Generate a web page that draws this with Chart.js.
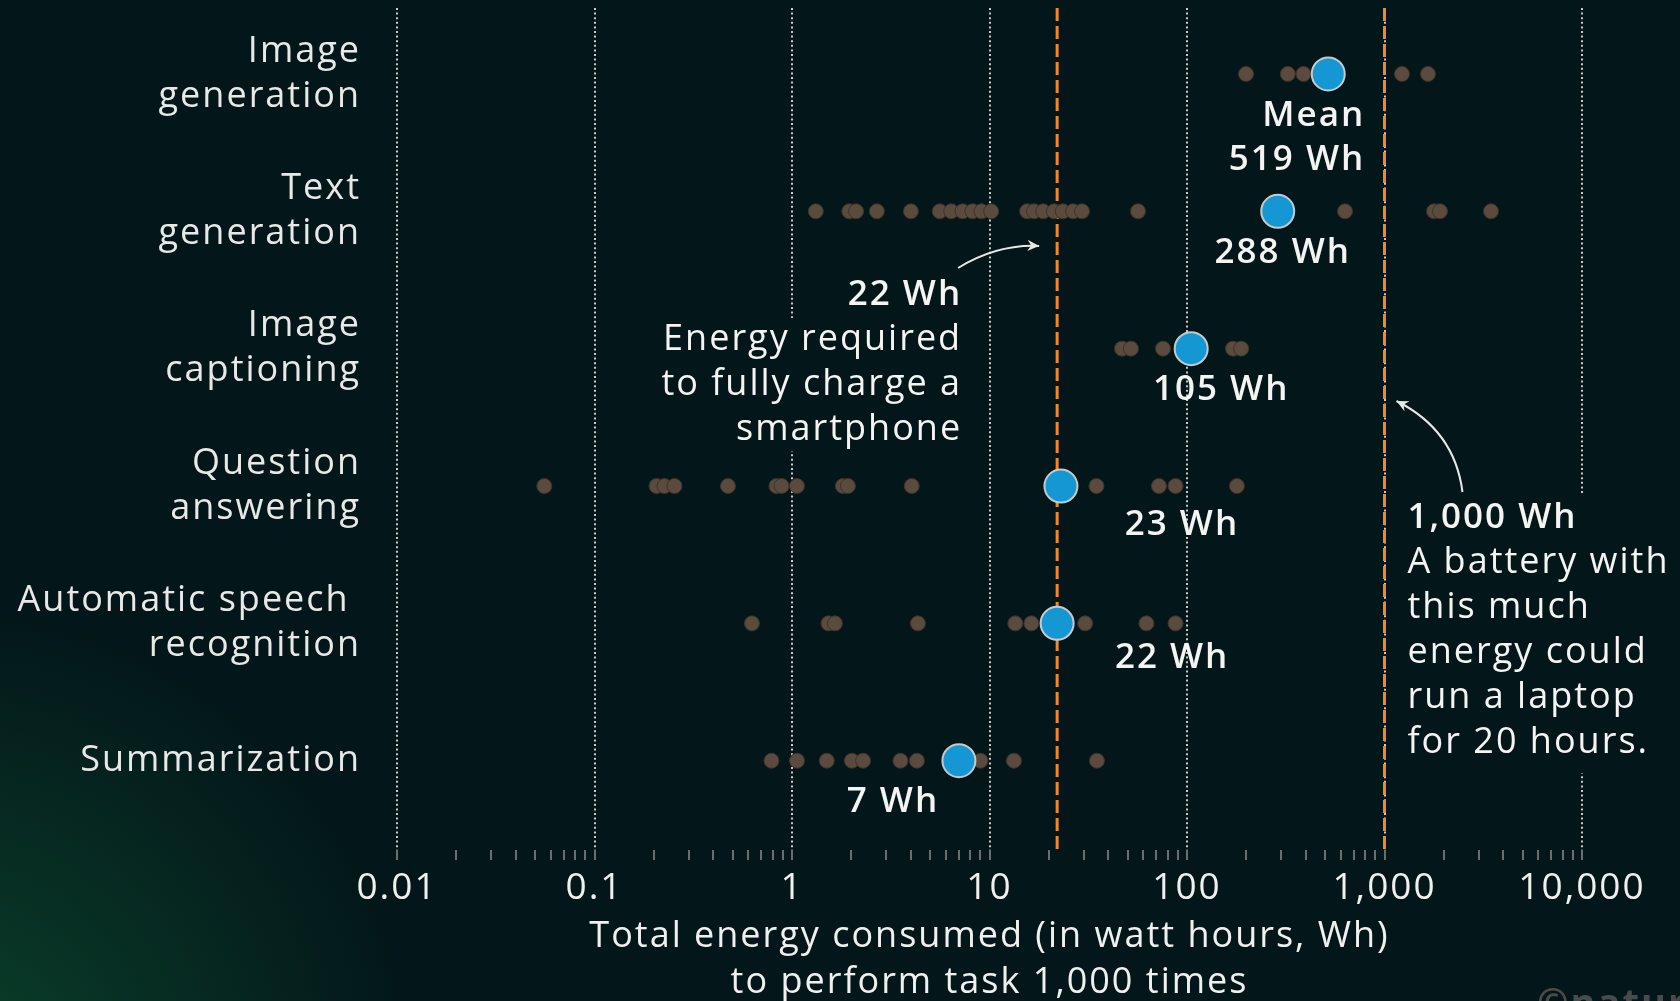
<!DOCTYPE html>
<html>
<head>
<meta charset="utf-8">
<title>Energy per task</title>
<script src="https://cdn.jsdelivr.net/npm/chart.js@4.4.1/dist/chart.umd.min.js"></script>
<style>
  html, body { margin: 0; padding: 0; background: #031619; overflow: hidden; }
  #wrap { width: 1680px; height: 1001px; position: relative; }
</style>
</head>
<body>
<div id="wrap"><canvas id="myChart"></canvas></div>
<script>
var categories = [
  ["Image", "generation"],
  ["Text", "generation"],
  ["Image", "captioning"],
  ["Question", "answering"],
  ["Automatic speech ", "recognition"],
  ["Summarization"]
];
var meanValues = [519, 288, 105, 23, 22, 7];
var meanLabels = [["Mean", "519 Wh"], ["288 Wh"], ["105 Wh"], ["23 Wh"], ["22 Wh"], ["7 Wh"]];

var imageGeneration = [199, 324, 389, 1226, 1660];
var textGeneration = [1.32, 1.95, 2.11, 2.69, 4.0, 5.6, 6.4, 7.3, 8.2, 9.1, 10.2, 15.5, 16.8, 18.7, 21.2, 23.5, 26.5, 29.4, 56.5, 631, 1782, 1910, 3460];
var imageCaptioning = [46.9, 52, 75.6, 171, 188];
var questionAnswering = [0.0557, 0.206, 0.226, 0.254, 0.474, 0.834, 0.886, 1.06, 1.81, 1.92, 4.04, 34.8, 72.1, 87.5, 179];
var speechRecognition = [0.627, 1.53, 1.65, 4.34, 13.5, 16.3, 30.5, 62.3, 87.5];
var summarization = [0.787, 1.06, 1.5, 2.01, 2.29, 3.54, 4.29, 9.0, 13.3, 35.0];

var referenceValues = [22, 1000];
var referenceNotes = [
  ["22 Wh", "Energy required", "to fully charge a", "smartphone"],
  ["1,000 Wh", "A battery with", "this much", "energy could", "run a laptop", "for 20 hours."]
];

var tickValues = [0.01, 0.1, 1, 10, 100, 1000, 10000];
var tickLabels = ["0.01", "0.1", "1", "10", "100", "1,000", "10,000"];
var axisTitle = ["Total energy consumed (in watt hours, Wh)", "to perform task 1,000 times"];

var FONT = "'Open Sans', 'Noto Sans', sans-serif";
var BG = "#031619";
var rows = [imageGeneration, textGeneration, imageCaptioning, questionAnswering, speechRecognition, summarization];

var dots = [];
rows.forEach(function (list, i) {
  list.forEach(function (v) {
    dots.push({ x: v, y: i });
  });
});
var means = meanValues.map(function (v, i) {
  return { x: v, y: i };
});

var yMin = -0.48;
var yMax = 5.65;

function refLine(v) {
  return {
    type: "line",
    data: [{ x: v, y: yMin }, { x: v, y: yMax }],
    borderColor: "#f5862a",
    borderWidth: 3,
    borderDash: [13, 5],
    pointRadius: 0,
    fill: false,
    clip: false,
    order: 3
  };
}

// offsets in px from each mean dot: [dx, dy, align]
var labelOffsets = [[37, 42, "right"], [5, 42, "center"], [30, 41, "center"], [121, 39, "center"], [115, 35, "center"], [-66, 41, "center"]];

function arrow(ctx, x0, y0, cx, cy, x1, y1) {
  ctx.beginPath();
  ctx.moveTo(x0, y0);
  ctx.quadraticCurveTo(cx, cy, x1, y1);
  ctx.stroke();
  var a = Math.atan2(y1 - cy, x1 - cx);
  ctx.beginPath();
  ctx.moveTo(x1, y1);
  ctx.lineTo(x1 - 13 * Math.cos(a - 0.45), y1 - 13 * Math.sin(a - 0.45));
  ctx.lineTo(x1 - 8 * Math.cos(a), y1 - 8 * Math.sin(a));
  ctx.lineTo(x1 - 13 * Math.cos(a + 0.45), y1 - 13 * Math.sin(a + 0.45));
  ctx.closePath();
  ctx.fill();
}

var backdrop = {
  id: "backdrop",
  beforeDraw: function (chart) {
    var ctx = chart.ctx;
    ctx.letterSpacing = "2px";
    ctx.save();
    ctx.fillStyle = BG;
    ctx.fillRect(0, 0, chart.width, chart.height);
    var g = ctx.createRadialGradient(-60, 1080, 0, -60, 1080, 480);
    g.addColorStop(0, "rgba(12, 74, 46, 0.85)");
    g.addColorStop(1, "rgba(12, 74, 46, 0)");
    ctx.fillStyle = g;
    ctx.fillRect(0, 0, chart.width, chart.height);
    ctx.restore();
  },
  beforeDatasetsDraw: function (chart) {
    var x = chart.scales.x;
    var ctx = chart.ctx;
    var a = x.getPixelForValue(referenceValues[0]);
    var b = x.getPixelForValue(referenceValues[1]);
    ctx.save();
    ctx.fillStyle = BG;
    ctx.fillRect(a - 410, 318, 315, 133);
    ctx.fillRect(b + 12, 493, 300, 280);
    ctx.restore();
  }
};

var notes = {
  id: "notes",
  afterDatasetsDraw: function (chart) {
    var ctx = chart.ctx;
    var x = chart.scales.x;
    var y = chart.scales.y;
    ctx.save();
    ctx.letterSpacing = "2px";
    ctx.textBaseline = "middle";
    ctx.fillStyle = "#f4f4f4";
    ctx.font = "600 35px " + FONT;
    meanValues.forEach(function (v, i) {
      var off = labelOffsets[i];
      var px = x.getPixelForValue(v) + off[0];
      var py = y.getPixelForValue(i) + off[1];
      ctx.textAlign = off[2];
      meanLabels[i].forEach(function (line, k) {
        ctx.fillText(line, px, py + k * 44);
      });
    });

    var a = x.getPixelForValue(referenceValues[0]);
    var b = x.getPixelForValue(referenceValues[1]);
    ctx.textAlign = "right";
    referenceNotes[0].forEach(function (line, k) {
      ctx.font = (k === 0 ? "600 35px " : "400 36px ") + FONT;
      ctx.fillText(line, a - 95, 295 + k * 45);
    });
    ctx.textAlign = "left";
    referenceNotes[1].forEach(function (line, k) {
      ctx.font = (k === 0 ? "600 35px " : "400 36px ") + FONT;
      ctx.fillText(line, b + 23, 518 + k * 45);
    });

    ctx.strokeStyle = "#e8e8e8";
    ctx.fillStyle = "#e8e8e8";
    ctx.lineWidth = 2;
    arrow(ctx, a - 99, 268, a - 60, 244, a - 18, 246);
    arrow(ctx, b + 78, 492, b + 70, 430, b + 12, 401);

    ctx.fillStyle = "#4a4a4a";
    ctx.font = "700 38px " + FONT;
    ctx.textAlign = "left";
    ctx.textBaseline = "top";
    ctx.fillText("\u00a9nature", 1537, 986);
    ctx.restore();
  }
};

var ctx = document.getElementById("myChart").getContext("2d");
var chart = new Chart(ctx, {
  type: "scatter",
  data: {
    datasets: [
      {
        data: means,
        backgroundColor: "#1597d4",
        borderColor: "#c3cbcf",
        borderWidth: 2,
        pointRadius: 16.5,
        order: 1
      },
      {
        data: dots,
        backgroundColor: "#5b4b3e",
        borderColor: "#3e3229",
        borderWidth: 1,
        pointRadius: 7.5,
        order: 2
      },
      refLine(referenceValues[0]),
      refLine(referenceValues[1])
    ]
  },
  options: {
    responsive: true,
    maintainAspectRatio: false,
    animation: false,
    devicePixelRatio: 1,
    layout: { autoPadding: false, padding: { top: 8, right: 98, left: 0, bottom: 0 } },
    plugins: {
      legend: { display: false },
      tooltip: { enabled: false }
    },
    scales: {
      x: {
        type: "logarithmic",
        min: 0.01,
        max: 10000,
        afterBuildTicks: function (scale) {
          var t = [];
          tickValues.forEach(function (v, i) {
            t.push({ value: v, major: true });
            if (i < tickValues.length - 1) {
              for (var k = 2; k < 10; k++) t.push({ value: v * k, major: false });
            }
          });
          scale.ticks = t;
        },
        afterFit: function (scale) {
          scale.height = 151;
          scale.paddingLeft = 0;
          scale.paddingRight = 0;
        },
        grid: {
          color: function (c) {
            return c.tick && tickValues.indexOf(c.tick.value) >= 0 ? "#c9c9c9" : "rgba(0,0,0,0)";
          },
          lineWidth: 2,
          drawTicks: true,
          tickLength: 10,
          tickColor: "#8c8c8c",
          tickWidth: 1.5,
          tickBorderDash: []
        },
        border: { display: false, dash: [2, 2.6] },
        ticks: {
          autoSkip: false,
          maxRotation: 0,
          padding: 6,
          color: "#f0f0f0",
          font: { family: FONT, size: 37 },
          callback: function (value) {
            var i = tickValues.indexOf(value);
            return i >= 0 ? tickLabels[i] : "";
          }
        },
        title: {
          display: true,
          text: axisTitle,
          color: "#f0f0f0",
          font: { family: FONT, size: 36, lineHeight: "46px" },
          padding: { top: 0, bottom: -5 }
        }
      },
      y: {
        type: "linear",
        min: yMin,
        max: yMax,
        reverse: true,
        afterBuildTicks: function (scale) {
          scale.ticks = categories.map(function (c, i) {
            return { value: i };
          });
        },
        afterFit: function (scale) {
          scale.width = 397;
          scale.paddingTop = 0;
          scale.paddingBottom = 0;
        },
        grid: { display: false, drawTicks: false },
        border: { display: false },
        ticks: {
          padding: 36,
          color: "#e8e8e8",
          font: { family: FONT, size: 36, lineHeight: 1.25 },
          callback: function (value) {
            return categories[value];
          }
        }
      }
    }
  },
  plugins: [backdrop, notes]
});
</script>
</body>
</html>
